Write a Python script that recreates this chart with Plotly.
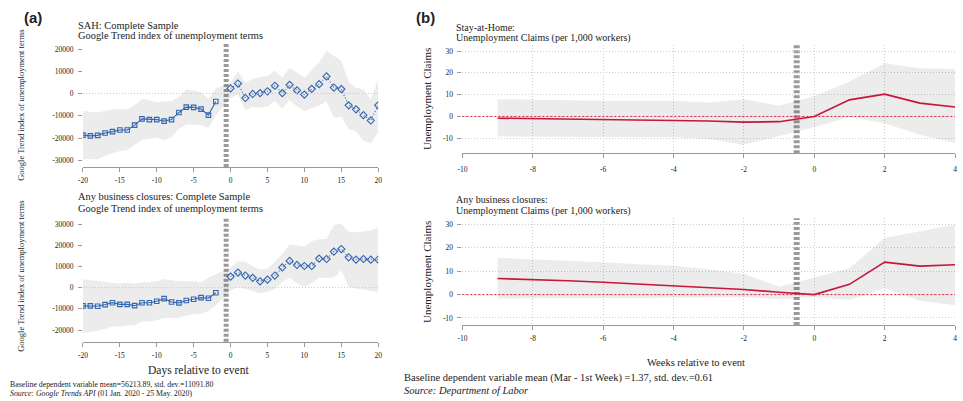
import plotly.graph_objects as go

W, H = 963, 401

# ---------------- Panel (a) data: Google Trends ----------------
days_pre = list(range(-20, -1))          # -20 .. -2
days_post = list(range(0, 21))           # 0 .. 20

sah_pre = [-18700, -19000, -18800, -17700, -17100, -16400, -16400, -14200, -11400, -11700,
           -11700, -12400, -11700, -8500, -6100, -6200, -7000, -9700, -3600]
sah_post = [2300, 4500, -2000, -200, 200, 1000, 3500, 200, 3900, 1400, -500, 2100, 4200,
            7700, 2700, 2000, -5300, -7100, -9700, -12100, -5300]
sah_up_pre = [-7900, -8300, -8500, -7700, -7200, -7100, -7100, -5300, -2300, -3000,
              -3800, -3600, -3500, -1500, 1800, 1500, 500, -2300, 2300]
sah_up_post = [5000, 10000, 4800, 6500, 7300, 7900, 10300, 7300, 11500, 9500, 7100, 10600,
               14100, 19100, 16700, 14700, 5300, 2700, 1800, -2600, 6400]
sah_lo_pre = [-29500, -29600, -29500, -27900, -26800, -25800, -25500, -23000, -20900, -20600,
              -20000, -20900, -19700, -15900, -13900, -13900, -14300, -15500, -9800]
sah_lo_post = [-2000, -500, -7600, -6100, -6400, -5800, -3300, -6700, -3000, -5800, -8000,
               -6500, -5500, -3500, -10900, -10500, -15900, -17000, -21200, -22400, -17400]

abc_pre = [-8600, -8600, -8800, -8000, -7100, -7900, -7900, -8500, -7100, -7100,
           -6400, -5200, -6800, -7200, -6100, -5500, -4700, -5000, -2400]
abc_post = [5200, 7100, 5700, 4600, 3000, 3800, 5700, 9500, 12600, 10700, 10200, 10200,
            13700, 13500, 17000, 18200, 14300, 13200, 13500, 13200, 13200]
abc_up_pre = [3900, 3500, 3200, 2700, 2400, 2000, 2300, 1800, 2500, 2500,
              3000, 4100, 3500, 3100, 3100, 3000, 2500, 4700, 6300]
abc_up_post = [9400, 12400, 12300, 10100, 8500, 9000, 12100, 16000, 20300, 20000, 19500,
               22000, 22800, 23000, 29500, 30200, 26300, 26100, 26600, 27000, 28600]
abc_lo_pre = [-21400, -20900, -20400, -19500, -18200, -18500, -17900, -17900, -16000, -16000,
              -15400, -14300, -14300, -14300, -13200, -12600, -12300, -11000, -8500]
abc_lo_post = [-1300, 300, -800, -1600, -2800, -2000, -600, 2700, 4700, 1900, 300, 1900,
               4700, 4600, 4700, 8200, 300, -200, -900, -1600, -2000]

a_xticks = [-20, -15, -10, -5, 0, 5, 10, 15, 20]
a_top_yticks = [20000, 10000, 0, -10000, -20000, -30000]
a_bot_yticks = [30000, 20000, 10000, 0, -10000, -20000]

# ---------------- Panel (b) data: Unemployment claims ----------------
weeks = list(range(-9, 5))               # -9 .. 4
sah_claims = [-0.8, -1.0, -1.2, -1.4, -1.6, -1.9, -2.1, -2.6, -2.4, 0.0, 7.6, 10.2, 6.1, 4.3]
sah_claims_up = [7.9, 7.6, 7.2, 7.2, 7.2, 7.2, 6.4, 7.9, 4.9, 9.2, 16.0, 24.4, 22.1, 21.8]
sah_claims_lo = [-9.2, -9.2, -9.2, -9.4, -9.5, -9.5, -10.4, -13.0, -8.9, -5.0, -0.3, -3.1, -8.4, -12.2]

abc_claims = [6.9, 6.5, 5.9, 5.3, 4.6, 3.9, 3.1, 2.2, 1.0, 0.0, 4.4, 13.9, 12.2, 12.8]
abc_claims_up = [15.8, 15.2, 14.5, 13.8, 13.0, 12.3, 10.8, 8.9, 3.4, 7.4, 11.3, 24.2, 27.1, 30.0]
abc_claims_lo = [-1.7, -1.6, -1.6, -1.5, -1.5, -1.4, -1.3, -1.1, -1.9, -1.1, -2.3, 2.7, -2.6, -4.6]

b_xticks = [-10, -8, -6, -4, -2, 0, 2, 4]
b_yticks = [30, 20, 10, 0, -10]

EVENT_A = -0.6    # vertical reference line panel (a)
EVENT_B = -0.5    # vertical reference line panel (b)

# ---------------- styling ----------------
SERIF = "Liberation Serif, Times New Roman, serif"
SANS = "Liberation Sans, Arial, sans-serif"
BLUE = "#3566b0"
RED = "#c8153a"
BAND = "rgba(0,0,0,0.075)"
TXT = "#222222"


def px_x(p):
    return p / W


def px_y(p):
    return 1 - p / H


fig = go.Figure()


def band(x, up, lo, xa, ya):
    fig.add_trace(go.Scatter(x=x + x[::-1], y=up + lo[::-1], fill="toself", fillcolor=BAND,
                             line=dict(width=0), mode="lines", hoverinfo="skip",
                             showlegend=False, xaxis=xa, yaxis=ya))


def pre_post(xpre, ypre, xpost, ypost, xa_, ya_):
    fig.add_trace(go.Scatter(x=xpre, y=ypre, mode="lines+markers",
                             line=dict(color=BLUE, width=1.1),
                             marker=dict(symbol="square-open", size=4.5, color=BLUE,
                                         line=dict(width=1.1)),
                             showlegend=False, xaxis=xa_, yaxis=ya_))
    fig.add_trace(go.Scatter(x=xpost, y=ypost, mode="lines+markers",
                             line=dict(color=BLUE, width=1.1, dash="1px,2px"),
                             marker=dict(symbol="diamond-open", size=5.5, color=BLUE,
                                         line=dict(width=1.1)),
                             showlegend=False, xaxis=xa_, yaxis=ya_))


# panel a top
band(days_pre + days_post, sah_up_pre + sah_up_post, sah_lo_pre + sah_lo_post, "x", "y")
pre_post(days_pre, sah_pre, days_post, sah_post, "x", "y")
# panel a bottom
band(days_pre + days_post, abc_up_pre + abc_up_post, abc_lo_pre + abc_lo_post, "x2", "y2")
pre_post(days_pre, abc_pre, days_post, abc_post, "x2", "y2")
# panel b top
band(weeks, sah_claims_up, sah_claims_lo, "x3", "y3")
fig.add_trace(go.Scatter(x=weeks, y=sah_claims, mode="lines", line=dict(color=RED, width=1.6),
                         showlegend=False, xaxis="x3", yaxis="y3"))
# panel b bottom
band(weeks, abc_claims_up, abc_claims_lo, "x4", "y4")
fig.add_trace(go.Scatter(x=weeks, y=abc_claims, mode="lines", line=dict(color=RED, width=1.6),
                         showlegend=False, xaxis="x4", yaxis="y4"))

tickfont = dict(family=SERIF, size=7.5, color=TXT)


def xa(dom, rng, ticks, anchor, grid, standoff):
    return dict(domain=[px_x(dom[0]), px_x(dom[1])], range=rng, tickvals=ticks,
                ticktext=[str(t) for t in ticks], anchor=anchor, showline=True,
                linecolor="#9a9a9a", linewidth=1, ticks="outside", ticklen=4, tickcolor="#9a9a9a",
                showgrid=grid, gridcolor="#cfcfcf", griddash="1px,2px", gridwidth=1,
                zeroline=False, tickfont=tickfont, ticklabelstandoff=standoff)


def ya(dom, rng, ticks, anchor, grid):
    return dict(domain=[px_y(dom[1]), px_y(dom[0])], range=rng, tickvals=ticks,
                ticktext=[str(t) for t in ticks], anchor=anchor, showline=False,
                ticks="outside", ticklen=4, tickcolor="#9a9a9a",
                showgrid=grid, gridcolor="#cfcfcf", griddash="1px,2px", gridwidth=1,
                zeroline=False, tickfont=tickfont, ticklabelstandoff=3)


fig.update_layout(
    width=W, height=H, margin=dict(l=0, r=0, t=0, b=0),
    paper_bgcolor="white", plot_bgcolor="white", showlegend=False,
    xaxis=xa((78.7, 376.7), [-20, 20], a_xticks, "y", False, 2),
    yaxis=ya((43, 167), [-33000, 22700], a_top_yticks, "x", False),
    xaxis2=xa((78.7, 376.7), [-20, 20], a_xticks, "y2", False, 2),
    yaxis2=ya((216.7, 341.7), [-25500, 33450], a_bot_yticks, "x2", False),
    xaxis3=xa((461.7, 959), [-10, 4], b_xticks, "y3", True, 5),
    yaxis3=ya((45, 153.3), [-16.9, 32.75], b_yticks, "x3", True),
    xaxis4=xa((461.7, 959), [-10, 4], b_xticks, "y4", True, 2),
    yaxis4=ya((218.3, 325), [-13, 32.65], b_yticks, "x4", True),
)

shapes = []
for xr, yr, ev, wd in [("x", "y", EVENT_A, 5), ("x2", "y2", EVENT_A, 5),
                       ("x3", "y3", EVENT_B, 6), ("x4", "y4", EVENT_B, 6)]:
    shapes.append(dict(type="line", xref=xr, yref=yr + " domain", x0=ev, x1=ev, y0=0, y1=1,
                       line=dict(color="#9a9a9a", width=wd, dash="3px,2px"), layer="below"))
for xr, yr, col, dsh in [("x", "y", "#c4c4c4", "1px,2px"), ("x2", "y2", "#c4c4c4", "1px,2px"),
                         ("x3", "y3", "#e0203c", "2px,2px"), ("x4", "y4", "#e0203c", "2px,2px")]:
    shapes.append(dict(type="line", xref=xr + " domain", yref=yr, x0=0, x1=1, y0=0, y1=0,
                       line=dict(color=col, width=1, dash=dsh), layer="above"))
fig.update_layout(shapes=shapes)


def ann(text, x, y, size, family=SERIF, xanchor="left", angle=0, color=TXT):
    fig.add_annotation(text=text, x=px_x(x), y=px_y(y), xref="paper", yref="paper",
                       showarrow=False, xanchor=xanchor, yanchor="middle", textangle=angle,
                       borderpad=0, font=dict(family=family, size=size, color=color))


ann("<b>(a)</b>", 18, 17, 15, family=SANS)
ann("<b>(b)</b>", 414, 17, 15, family=SANS)

ann("SAH: Complete Sample", 73, 25, 10.4)
ann("Google Trend index of unemployment terms", 73, 36, 10.4)
ann("Any business closures: Complete Sample", 73, 197, 10.4)
ann("Google Trend index of unemployment terms", 73, 209, 10.4)

ann("Stay-at-Home:", 454, 27, 10)
ann("Unemployment Claims (per 1,000 workers)", 454, 38, 10)
ann("Any business closures:", 454, 199, 10)
ann("Unemployment Claims (per 1,000 workers)", 454, 210.5, 10)

ann("Google Trend index of unemployment terms", 16, 105, 8.5, xanchor="center", angle=-90)
ann("Google Trend index of unemployment terms", 16, 276, 8.5, xanchor="center", angle=-90)
ann("Unemployment Claims", 426, 99, 11, xanchor="center", angle=-90)
ann("Unemployment Claims", 426, 272, 11, xanchor="center", angle=-90)

ann("Days relative to event", 195, 370, 11.5, xanchor="center")
ann("Weeks relative to event", 698, 362, 10.5, xanchor="center")

ann("Baseline dependent variable mean=56213.89, std. dev.=11091.80", 4, 384, 7.8)
ann("<i>Source: Google Trends API</i> (01 Jan. 2020 - 25 May. 2020)", 4, 393, 7.8)
ann("Baseline dependent variable mean (Mar - 1st Week) =1.37, std. dev.=0.61", 402, 378, 10.5)
ann("<i>Source: Department of Labor</i>", 402, 390, 10.5)

fig.write_html("out.html", config={"displayModeBar": False},
               post_script="document.body.style.margin='0';document.body.style.overflow='hidden';")
